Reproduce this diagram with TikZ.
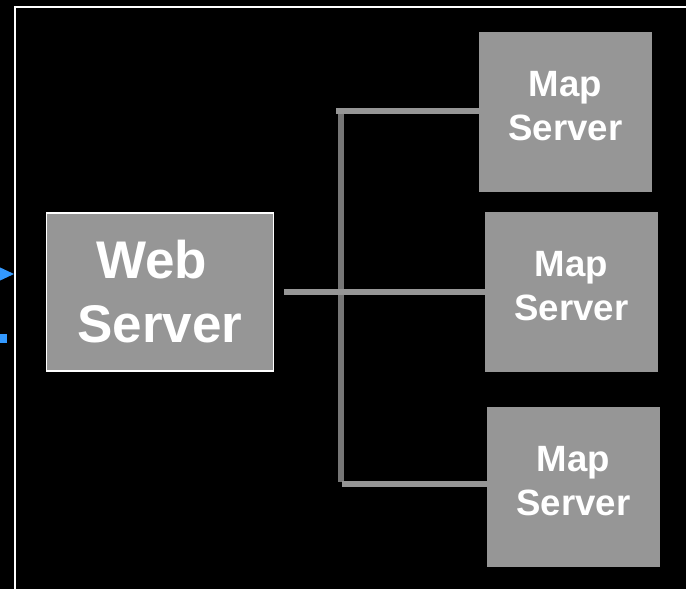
\documentclass[tikz,border=0pt]{standalone}
\usepackage{fontspec}
\setmainfont{Liberation Sans}
\definecolor{boxgray}{HTML}{969696}
\definecolor{busgray}{HTML}{767676}
\definecolor{arrowblue}{HTML}{3399FF}
\begin{document}
\begin{tikzpicture}[x=1pt,y=-1pt,
  srv/.style={fill=boxgray,text=white,align=center,inner sep=0pt,font=\bfseries},
  websrv/.style={srv,draw=white,line width=1.5pt,minimum width=227pt,minimum height=158pt,
    font=\fontsize{53}{64}\selectfont\bfseries},
  mapsrv/.style={srv,minimum width=173pt,minimum height=160pt,
    font=\fontsize{36.6}{44}\selectfont\bfseries},
  link/.style={draw=boxgray,line width=5.5pt},
  bus/.style={draw=busgray,line width=6pt}]
\useasboundingbox (0,0) rectangle (686,589);
\fill[black] (0,0) rectangle (686,589);
% frame
\draw[white,line width=2pt] (15,600) -- (15,6.5) -- (700,6.5);
% blue arrow fragment and marker
\coordinate (atip) at (14,274);
\fill[arrowblue] (atip) -- (-2,266.5) -- (-2,281.5) -- cycle;
\fill[arrowblue] (-1,334) rectangle (7,343);
% nodes
\node[websrv] (web) at (160,292) {Web\hspace*{17pt}\\Server};
\node[mapsrv] (m1) at (565.5,112) {Map\\Server\rule[-12pt]{0pt}{0pt}};
\node[mapsrv] (m2) at (571.5,292) {Map\\Server\rule[-12pt]{0pt}{0pt}};
\node[mapsrv] (m3) at (573.5,487) {Map\\Server\rule[-12pt]{0pt}{0pt}};
% bus
\coordinate (bt) at (341,108.5);
\coordinate (bb) at (341,482);
\draw[bus] (bt) -- (bb);
\coordinate (tl) at (336,111);
\coordinate (bl) at (342,484);
\draw[link] (tl) -- (tl -| m1.west);
\draw[link] (bl) -- (bl -| m3.west);
\draw[link,shorten <=10pt] (web.east) -- (m2.west);
\end{tikzpicture}
\end{document}
